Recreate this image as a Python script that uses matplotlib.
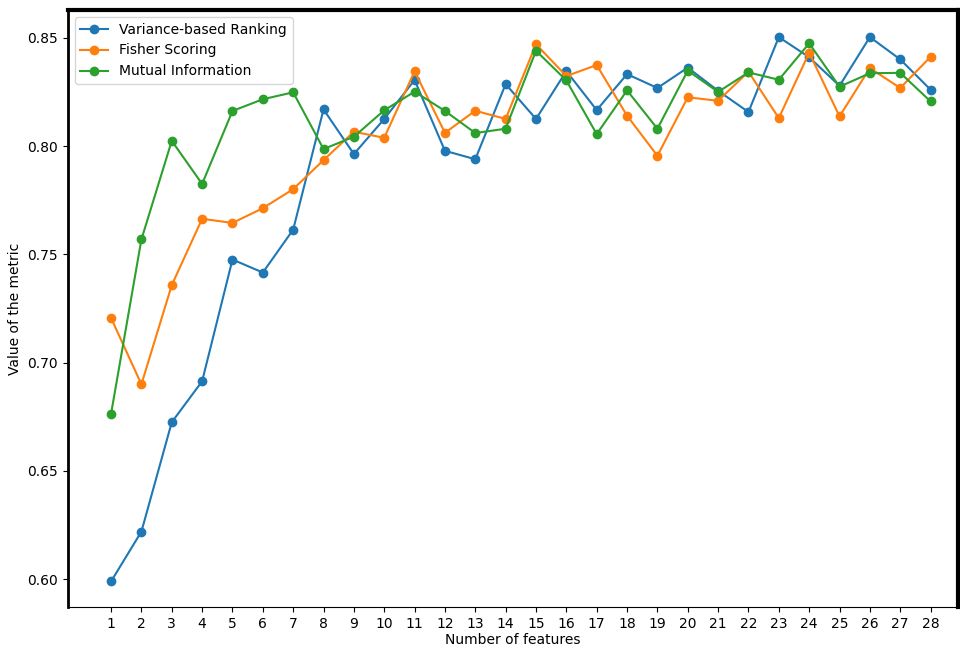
import matplotlib.pyplot as plt
import numpy as np

n_features = list(range(1, 29))

variance_rank = [0.599, 0.622, 0.6725, 0.6914, 0.7476, 0.7416, 0.7614, 0.8169, 0.7963, 0.8125,
                 0.8305, 0.7978, 0.7939, 0.8286, 0.8125, 0.8346, 0.8166, 0.8332, 0.8268, 0.8362,
                 0.8255, 0.8157, 0.8503, 0.8410, 0.8278, 0.8503, 0.8400, 0.8260]
fisher = [0.7206, 0.690, 0.7358, 0.7664, 0.7645, 0.7713, 0.7801, 0.7935, 0.8066, 0.8038,
          0.8345, 0.8061, 0.8163, 0.8125, 0.8470, 0.8323, 0.8374, 0.8140, 0.7955, 0.8225,
          0.8209, 0.8343, 0.8129, 0.8431, 0.8137, 0.8360, 0.8268, 0.8412]
mutual_info = [0.6764, 0.7569, 0.8024, 0.7825, 0.8162, 0.8216, 0.8248, 0.7986, 0.8043, 0.8165,
               0.8251, 0.8162, 0.8060, 0.8080, 0.8440, 0.8303, 0.8055, 0.8257, 0.8080, 0.8348,
               0.8250, 0.8340, 0.8306, 0.8474, 0.8274, 0.8336, 0.8338, 0.8206]

fig = plt.figure(figsize=(9.6, 6.5), dpi=100)
ax = fig.add_axes([0.0708, 0.0662, 0.927, 0.9184])

ax.plot(n_features, variance_rank, marker='o', label='Variance-based Ranking')
ax.plot(n_features, fisher, marker='o', label='Fisher Scoring')
ax.plot(n_features, mutual_info, marker='o', label='Mutual Information')

ax.set_xticks(n_features)
ax.set_xlim(-0.42, 28.9)
ax.set_ylim(0.5872, 0.8628)
ax.set_yticks([0.60, 0.65, 0.70, 0.75, 0.80, 0.85])
ax.set_xlabel('Number of features', labelpad=2)
ax.set_ylabel('Value of the metric')
ax.legend(loc='upper left')

# screenshot-like border
ax.spines['top'].set_linewidth(3)
ax.spines['right'].set_linewidth(3)
ax.spines['left'].set_linewidth(2)

fig.savefig('out.png', dpi=100)
